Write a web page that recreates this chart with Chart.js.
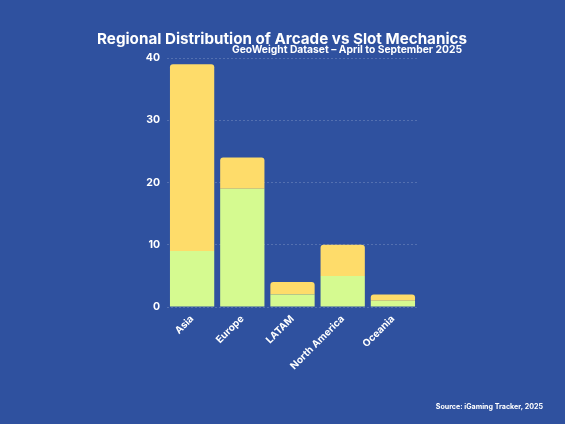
<!DOCTYPE html>
<html>
<head>
<meta charset="utf-8">
<script src="https://cdn.jsdelivr.net/npm/chart.js@4"></script>
<style>
  html, body { margin: 0; padding: 0; background: #2f519f; }
  #wrap { width: 565px; height: 424px; position: relative; }
</style>
</head>
<body>
<div id="wrap"><canvas id="chartBar"></canvas></div>
<script>
let regions = ['Asia', 'Europe', 'LATAM', 'North America', 'Oceania'];
let arcade = [9, 19, 2, 5, 1];
let slot = [30, 5, 2, 5, 1];
let yTicks = [0, 10, 20, 30, 40];

let fontName = 'Inter, "DejaVu Sans", sans-serif';

// title, subtitle and source are painted straight onto the canvas
let textPlugin = {
  id: 'texts',
  afterDraw(chart) {
    let c = chart.ctx;
    c.save();
    c.fillStyle = '#ffffff';
    c.textBaseline = 'alphabetic';
    c.font = 'bold 15.2px ' + fontName;
    c.textAlign = 'center';
    c.fillText('Regional Distribution of Arcade vs Slot Mechanics', 282, 44);
    c.font = 'bold 10.3px ' + fontName;
    c.textAlign = 'right';
    c.fillText('GeoWeight Dataset \u2013 April to September 2025', 462, 53);
    c.font = 'bold 7.1px ' + fontName;
    c.fillText('Source: iGaming Tracker, 2025', 543, 409);
    c.restore();
  }
};

let bar = document.getElementById('chartBar').getContext('2d');

let chartBar = new Chart(bar, {
  type: 'bar',
  data: {
    labels: regions,
    datasets: [{
      label: 'Arcade',
      data: arcade,
      backgroundColor: '#d5fa90',
      borderRadius: 3,
      categoryPercentage: 0.9,
      barPercentage: 0.98
    }, {
      label: 'Slot',
      data: slot,
      backgroundColor: '#fedc6a',
      borderRadius: 3,
      categoryPercentage: 0.9,
      barPercentage: 0.98
    }]
  },
  options: {
    responsive: true,
    maintainAspectRatio: false,
    animation: false,
    layout: { padding: { left: 120, right: 147, top: 58, bottom: 0 } },
    plugins: {
      legend: { display: false },
      tooltip: { enabled: false }
    },
    scales: {
      x: {
        stacked: true,
        grid: { display: false, drawTicks: false },
        border: { display: false },
        ticks: {
          color: '#ffffff',
          font: { family: fontName, weight: 'bold', size: 10 },
          minRotation: 45,
          maxRotation: 45,
          padding: 6
        },
        afterFit(scale) { scale.height = 117; }
      },
      y: {
        stacked: true,
        min: 0,
        max: 40,
        afterBuildTicks(scale) { scale.ticks = yTicks.map(v => ({ value: v })); },
        grid: { color: 'rgba(255,255,255,0.18)', lineWidth: 1, drawTicks: false },
        border: { display: false, dash: [2, 2] },
        ticks: {
          color: '#ffffff',
          font: { family: fontName, weight: 'bold', size: 10.5 },
          padding: 7
        },
        afterFit(scale) { scale.width = 47; }
      }
    }
  },
  plugins: [textPlugin]
});
</script>
</body>
</html>
